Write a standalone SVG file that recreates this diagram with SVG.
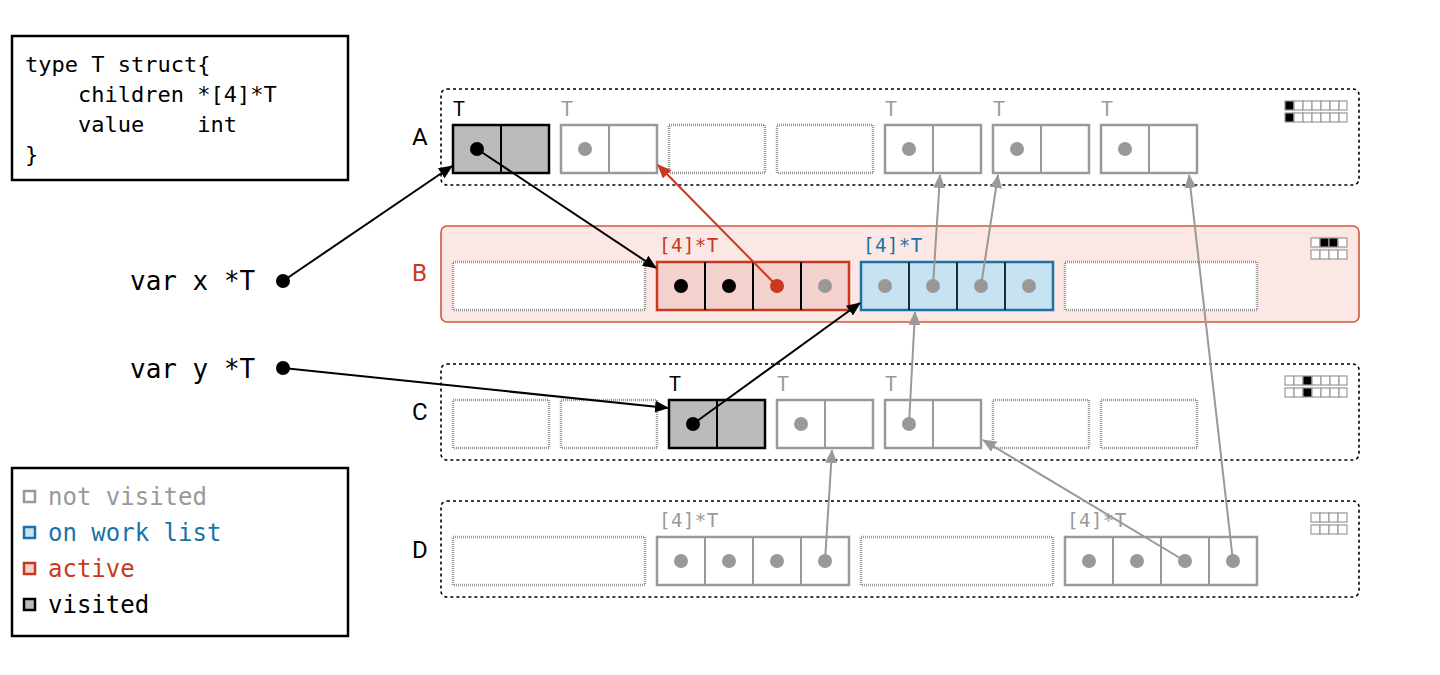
<svg xmlns="http://www.w3.org/2000/svg" width="1440" height="675" viewBox="0 0 1440 675">
<defs>
<style>
.mono{font-family:"DejaVu Sans Mono","Liberation Mono",monospace}
.sans{font-family:"Roboto","Liberation Sans",sans-serif}
.box{fill:#fff;stroke:#000;stroke-width:2.5}
.row{fill:none;stroke:#000;stroke-width:1.6;stroke-dasharray:3 3}
.empty{fill:#fff;stroke:#999;stroke-width:2.5;stroke-dasharray:1 1}
.nv{fill:#fff;stroke:#999;stroke-width:2.5}
.vis{fill:#bbb;stroke:#000;stroke-width:2.5}
.act{fill:#f4d2cd;stroke:#c8391f;stroke-width:2.5}
.wl{fill:#c7e2f1;stroke:#1a73a8;stroke-width:2.5}
.dg{fill:#999}.db{fill:#000}.dr{fill:#c8391f}
.bm{fill:#fff;stroke:#999;stroke-width:1.2}
.bmk{fill:#000;stroke:#999;stroke-width:1.2}
.cb{stroke:#000;stroke-width:2;fill:none}
.cr{stroke:#c8391f;stroke-width:2;fill:none}
.cg{stroke:#999;stroke-width:2;fill:none}
.lt{font-size:20px}
.la{font-size:19px;letter-spacing:0.5px}
</style>
<marker id="ab" markerWidth="14" markerHeight="12" refX="13" refY="6" orient="auto" markerUnits="userSpaceOnUse"><path d="M0,0 L14,6 L0,12 Z" fill="#000"/></marker>
<marker id="ar" markerWidth="14" markerHeight="12" refX="13" refY="6" orient="auto" markerUnits="userSpaceOnUse"><path d="M0,0 L14,6 L0,12 Z" fill="#c8391f"/></marker>
<marker id="ag" markerWidth="14" markerHeight="12" refX="13" refY="6" orient="auto" markerUnits="userSpaceOnUse"><path d="M0,0 L14,6 L0,12 Z" fill="#999"/></marker>
</defs>
<rect width="1440" height="675" fill="#fff"/>

<g id="code">
<rect class="box" x="12" y="36" width="336" height="144"/>
<text class="mono" font-size="22" fill="#000" xml:space="preserve"><tspan x="25" y="72">type T struct{</tspan><tspan x="25" y="102">    children *[4]*T</tspan><tspan x="25" y="132">    value    int</tspan><tspan x="25" y="162">}</tspan></text>
</g>

<g id="legend">
<rect class="box" x="12" y="468" width="336" height="168"/>
<rect class="nv" x="24" y="491" width="11" height="11" stroke-width="2"/>
<text class="mono" font-size="24" x="48" y="505" fill="#999">not visited</text>
<rect class="wl" x="24" y="527" width="11" height="11" stroke-width="2"/>
<text class="mono" font-size="24" x="48" y="541" fill="#1a73a8">on work list</text>
<rect class="act" x="24" y="563" width="11" height="11" stroke-width="2"/>
<text class="mono" font-size="24" x="48" y="577" fill="#c8391f">active</text>
<rect class="vis" x="24" y="599" width="11" height="11" stroke-width="2"/>
<text class="mono" font-size="24" x="48" y="613" fill="#000">visited</text>
</g>

<g id="varx">
<text class="mono" font-size="26" x="130" y="290" fill="#000">var x *T</text>
<circle cx="283" cy="281" r="7" class="db"/>
</g>
<g id="vary">
<text class="mono" font-size="26" x="130" y="378" fill="#000">var y *T</text>
<circle cx="283" cy="368" r="7" class="db"/>
</g>

<g id="rowA">
<rect class="row" x="441" y="89" width="918" height="96" rx="6"/>
<text class="sans" font-size="24" x="412" y="145" fill="#000">A</text>
<g id="A1">
<text class="sans lt" x="453" y="116" fill="#000">T</text>
<rect class="vis" x="453" y="125" width="96" height="48"/>
<line x1="501" y1="125" x2="501" y2="173" stroke="#000" stroke-width="2"/>
<circle cx="477" cy="149" r="7" class="db"/>
</g>
<g id="A2">
<text class="sans lt" x="561" y="116" fill="#999">T</text>
<rect class="nv" x="561" y="125" width="96" height="48"/>
<line x1="609" y1="125" x2="609" y2="173" stroke="#999" stroke-width="2"/>
<circle cx="585" cy="149" r="7" class="dg"/>
</g>
<rect class="empty" x="669" y="125" width="96" height="48"/>
<rect class="empty" x="777" y="125" width="96" height="48"/>
<g id="A5">
<text class="sans lt" x="885" y="116" fill="#999">T</text>
<rect class="nv" x="885" y="125" width="96" height="48"/>
<line x1="933" y1="125" x2="933" y2="173" stroke="#999" stroke-width="2"/>
<circle cx="909" cy="149" r="7" class="dg"/>
</g>
<g id="A6">
<text class="sans lt" x="993" y="116" fill="#999">T</text>
<rect class="nv" x="993" y="125" width="96" height="48"/>
<line x1="1041" y1="125" x2="1041" y2="173" stroke="#999" stroke-width="2"/>
<circle cx="1017" cy="149" r="7" class="dg"/>
</g>
<g id="A7">
<text class="sans lt" x="1101" y="116" fill="#999">T</text>
<rect class="nv" x="1101" y="125" width="96" height="48"/>
<line x1="1149" y1="125" x2="1149" y2="173" stroke="#999" stroke-width="2"/>
<circle cx="1125" cy="149" r="7" class="dg"/>
</g>
<g id="bmA">
<rect class="bmk" x="1285" y="101" width="9" height="9"/><rect class="bm" x="1294" y="101" width="9" height="9"/><rect class="bm" x="1303" y="101" width="9" height="9"/><rect class="bm" x="1312" y="101" width="9" height="9"/><rect class="bm" x="1321" y="101" width="9" height="9"/><rect class="bm" x="1330" y="101" width="9" height="9"/><rect class="bm" x="1339" y="101" width="8" height="9"/>
<rect class="bmk" x="1285" y="113" width="9" height="9"/><rect class="bm" x="1294" y="113" width="9" height="9"/><rect class="bm" x="1303" y="113" width="9" height="9"/><rect class="bm" x="1312" y="113" width="9" height="9"/><rect class="bm" x="1321" y="113" width="9" height="9"/><rect class="bm" x="1330" y="113" width="9" height="9"/><rect class="bm" x="1339" y="113" width="8" height="9"/>
</g>
</g>

<g id="rowB">
<rect x="441" y="226" width="918" height="96" rx="6" fill="#fbe7e4" stroke="#d0583e" stroke-width="1.6"/>
<text class="sans" font-size="24" x="412" y="281" fill="#c8391f">B</text>
<rect class="empty" x="453" y="262" width="192" height="48"/>
<g id="B1">
<text class="mono la" x="659" y="252" fill="#c8391f">[4]*T</text>
<rect class="act" x="657" y="262" width="192" height="48"/>
<path d="M705,262V310M753,262V310M801,262V310" stroke="#000" stroke-width="2"/>
<circle cx="681" cy="286" r="7" class="db"/>
<circle cx="729" cy="286" r="7" class="db"/>
<circle cx="777" cy="286" r="7" class="dr"/>
<circle cx="825" cy="286" r="7" class="dg"/>
</g>
<g id="B2">
<text class="mono la" x="863" y="252" fill="#1a73a8">[4]*T</text>
<rect class="wl" x="861" y="262" width="192" height="48"/>
<path d="M909,262V310M957,262V310M1005,262V310" stroke="#1a2a40" stroke-width="2"/>
<circle cx="885" cy="286" r="7" class="dg"/>
<circle cx="933" cy="286" r="7" class="dg"/>
<circle cx="981" cy="286" r="7" class="dg"/>
<circle cx="1029" cy="286" r="7" class="dg"/>
</g>
<rect class="empty" x="1065" y="262" width="192" height="48"/>
<g id="bmB">
<rect class="bm" x="1311" y="238" width="9" height="9"/><rect class="bmk" x="1320" y="238" width="9" height="9"/><rect class="bmk" x="1329" y="238" width="9" height="9"/><rect class="bm" x="1338" y="238" width="9" height="9"/>
<rect class="bm" x="1311" y="250" width="9" height="9"/><rect class="bm" x="1320" y="250" width="9" height="9"/><rect class="bm" x="1329" y="250" width="9" height="9"/><rect class="bm" x="1338" y="250" width="9" height="9"/>
</g>
</g>

<g id="rowC">
<rect class="row" x="441" y="364" width="918" height="96" rx="6"/>
<text class="sans" font-size="24" x="412" y="420" fill="#000">C</text>
<rect class="empty" x="453" y="400" width="96" height="48"/>
<rect class="empty" x="561" y="400" width="96" height="48"/>
<g id="C3">
<text class="sans lt" x="669" y="391" fill="#000">T</text>
<rect class="vis" x="669" y="400" width="96" height="48"/>
<line x1="717" y1="400" x2="717" y2="448" stroke="#000" stroke-width="2"/>
<circle cx="693" cy="424" r="7" class="db"/>
</g>
<g id="C4">
<text class="sans lt" x="777" y="391" fill="#999">T</text>
<rect class="nv" x="777" y="400" width="96" height="48"/>
<line x1="825" y1="400" x2="825" y2="448" stroke="#999" stroke-width="2"/>
<circle cx="801" cy="424" r="7" class="dg"/>
</g>
<g id="C5">
<text class="sans lt" x="885" y="391" fill="#999">T</text>
<rect class="nv" x="885" y="400" width="96" height="48"/>
<line x1="933" y1="400" x2="933" y2="448" stroke="#999" stroke-width="2"/>
<circle cx="909" cy="424" r="7" class="dg"/>
</g>
<rect class="empty" x="993" y="400" width="96" height="48"/>
<rect class="empty" x="1101" y="400" width="96" height="48"/>
<g id="bmC">
<rect class="bm" x="1285" y="376" width="9" height="9"/><rect class="bm" x="1294" y="376" width="9" height="9"/><rect class="bmk" x="1303" y="376" width="9" height="9"/><rect class="bm" x="1312" y="376" width="9" height="9"/><rect class="bm" x="1321" y="376" width="9" height="9"/><rect class="bm" x="1330" y="376" width="9" height="9"/><rect class="bm" x="1339" y="376" width="8" height="9"/>
<rect class="bm" x="1285" y="388" width="9" height="9"/><rect class="bm" x="1294" y="388" width="9" height="9"/><rect class="bmk" x="1303" y="388" width="9" height="9"/><rect class="bm" x="1312" y="388" width="9" height="9"/><rect class="bm" x="1321" y="388" width="9" height="9"/><rect class="bm" x="1330" y="388" width="9" height="9"/><rect class="bm" x="1339" y="388" width="8" height="9"/>
</g>
</g>

<g id="rowD">
<rect class="row" x="441" y="501" width="918" height="96" rx="6"/>
<text class="sans" font-size="24" x="412" y="558" fill="#000">D</text>
<rect class="empty" x="453" y="537" width="192" height="48"/>
<g id="D1">
<text class="mono la" x="659" y="527" fill="#999">[4]*T</text>
<rect class="nv" x="657" y="537" width="192" height="48"/>
<path d="M705,537V585M753,537V585M801,537V585" stroke="#999" stroke-width="2"/>
<circle cx="681" cy="561" r="7" class="dg"/>
<circle cx="729" cy="561" r="7" class="dg"/>
<circle cx="777" cy="561" r="7" class="dg"/>
<circle cx="825" cy="561" r="7" class="dg"/>
</g>
<rect class="empty" x="861" y="537" width="192" height="48"/>
<g id="D2">
<text class="mono la" x="1067" y="527" fill="#999">[4]*T</text>
<rect class="nv" x="1065" y="537" width="192" height="48"/>
<path d="M1113,537V585M1161,537V585M1209,537V585" stroke="#999" stroke-width="2"/>
<circle cx="1089" cy="561" r="7" class="dg"/>
<circle cx="1137" cy="561" r="7" class="dg"/>
<circle cx="1185" cy="561" r="7" class="dg"/>
<circle cx="1233" cy="561" r="7" class="dg"/>
</g>
<g id="bmD">
<rect class="bm" x="1311" y="513" width="9" height="9"/><rect class="bm" x="1320" y="513" width="9" height="9"/><rect class="bm" x="1329" y="513" width="9" height="9"/><rect class="bm" x="1338" y="513" width="9" height="9"/>
<rect class="bm" x="1311" y="525" width="9" height="9"/><rect class="bm" x="1320" y="525" width="9" height="9"/><rect class="bm" x="1329" y="525" width="9" height="9"/><rect class="bm" x="1338" y="525" width="9" height="9"/>
</g>
</g>

<g id="connectors">
<line class="cb" x1="283" y1="281" x2="452" y2="166" marker-end="url(#ab)"/>
<line class="cb" x1="477" y1="149" x2="656" y2="268" marker-end="url(#ab)"/>
<line class="cr" x1="777" y1="286" x2="658" y2="165" marker-end="url(#ar)"/>
<line class="cb" x1="283" y1="368" x2="668" y2="408" marker-end="url(#ab)"/>
<line class="cb" x1="693" y1="424" x2="860" y2="303" marker-end="url(#ab)"/>
<line class="cg" x1="933" y1="286" x2="940" y2="175" marker-end="url(#ag)"/>
<line class="cg" x1="981" y1="286" x2="998" y2="175" marker-end="url(#ag)"/>
<line class="cg" x1="1233" y1="561" x2="1189" y2="175" marker-end="url(#ag)"/>
<line class="cg" x1="909" y1="424" x2="915" y2="312" marker-end="url(#ag)"/>
<line class="cg" x1="825" y1="561" x2="832" y2="450" marker-end="url(#ag)"/>
<line class="cg" x1="1185" y1="561" x2="983" y2="440" marker-end="url(#ag)"/>
</g>
</svg>
